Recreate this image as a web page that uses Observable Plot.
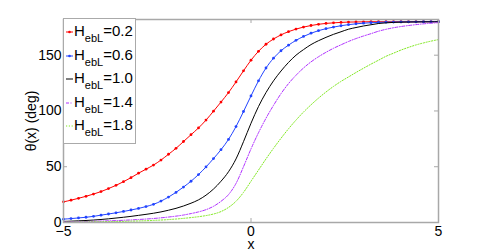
<!DOCTYPE html>
<html>
<head>
<meta charset="utf-8">
<script src="https://cdn.jsdelivr.net/npm/d3@7"></script>
<script src="https://cdn.jsdelivr.net/npm/@observablehq/plot@0.6"></script>
<style>
  html, body { margin: 0; padding: 0; background: #fff; }
  #wrap { position: relative; width: 485px; height: 252px; font-family: "Liberation Sans", Arial, Helvetica, sans-serif; }
  #legend { position: absolute; left: 63px; top: 18px; width: 73px; height: 126px; box-sizing: border-box;
            border: 1.5px solid #aaa; background: #fff; }
  .entry { position: absolute; left: 0; height: 24px; white-space: nowrap; color: #000; }
  .entry svg { position: absolute; left: 1px; top: 9px; }
  .entry .lab { position: absolute; left: 10px; top: 3px; font-size: 15px; line-height: 17px; }
  .entry sub { font-size: 11px; vertical-align: -6px; line-height: 0; }
</style>
</head>
<body>
<div id="wrap"><div id="legend"></div></div>
<script>
// x positions of the samples
const xs = [-5.0,-4.8,-4.6,-4.4,-4.2,-4.0,-3.8,-3.6,-3.4,-3.2,-3.0,-2.8,-2.6,-2.4,-2.2,-2.0,-1.8,-1.6,-1.4,-1.2,-1.0,
            -0.8,-0.6,-0.4,-0.2,0.0,0.2,0.4,0.6,0.8,1.0,1.2,1.4,1.6,1.8,2.0,2.2,2.4,2.6,2.8,3.0,
            3.2,3.4,3.6,3.8,4.0,4.2,4.4,4.6,4.8,5.0];

// series labels (H_ebL values)
const hLabels = ["0.2", "0.6", "1.0", "1.4", "1.8"];

// θ(x) in degrees
const theta02 = [18.5,20.0,21.7,23.5,25.5,27.7,30.4,33.3,36.6,40.2,44.2,47.8,51.5,56.0,61.2,66.5,72.6,78.7,84.8,91.8,99.8,
                 108.0,116.5,126.0,136.0,145.5,153.5,159.8,164.5,168.2,171.1,173.4,175.2,176.6,177.7,178.5,179.0,179.4,179.7,179.8,179.9,
                 180,180,180,180,180,180,180,180,180,180];
const theta06 = [3.0,3.5,4.1,4.7,5.5,6.6,7.6,8.7,9.9,11.2,12.6,14.3,16.3,19.2,22.8,27.0,31.8,37.0,43.0,49.8,57.3,
                 65.3,74.5,86.0,99.5,113.5,127.0,138.5,147.3,154.0,159.0,163.3,166.8,169.7,172.0,173.8,175.2,176.4,177.4,178.1,178.7,
                 179.1,179.4,179.6,179.7,179.8,179.9,179.9,180,180,180];
const theta10 = [1.0,1.2,1.5,1.8,2.2,2.7,3.3,4.0,4.7,5.5,6.4,7.3,8.3,9.5,11.0,12.7,14.8,17.3,20.3,24.5,30.0,
                 37.0,45.5,57.0,72.5,89.0,104.0,116.5,127.0,135.8,143.5,150.0,155.0,159.5,163.0,166.0,168.7,171.0,173.3,174.8,176.2,
                 177.3,178.4,179.0,179.4,179.6,179.7,179.8,179.9,179.9,180];
const theta14 = [0.6,0.7,0.8,0.9,1.1,1.3,1.5,1.7,2.0,2.3,2.7,3.1,3.6,4.2,4.9,5.7,6.7,8.0,9.5,11.5,14.5,
                 19.0,25.0,35.0,50.0,66.0,80.5,93.5,105.0,115.5,124.5,132.0,138.5,144.0,148.6,152.6,156.2,159.3,162.3,164.9,167.2,
                 169.3,171.5,173.2,174.6,175.7,176.6,177.4,178.1,178.7,179.2];
const theta18 = [0.3,0.35,0.4,0.5,0.6,0.7,0.8,0.9,1.0,1.2,1.4,1.6,1.9,2.2,2.6,3.1,3.7,4.4,5.2,6.2,7.6,
                 9.8,13.5,19.0,27.0,37.0,47.0,57.0,66.5,75.5,84.0,91.8,99.0,105.5,111.5,117.0,122.0,126.5,130.5,134.5,138.3,
                 142.0,145.5,149.0,151.8,154.6,157.0,159.2,161.0,162.6,164.0];

// tick values
const xTicks = [-5, 0, 5];
const yTicks = [0, 50, 100, 150];

// styles (kept separate from data)
const styles = {
  "0.2": {color: "#ff0000", dash: null, marker: true},
  "0.6": {color: "#2244ff", dash: null, marker: true},
  "1.0": {color: "#000000", dash: null, marker: false},
  "1.4": {color: "#b030ff", dash: "3,1.5,1,1.5", marker: false},
  "1.8": {color: "#80e820", dash: "1.2,1.6", marker: false}
};

const allSeries = [theta02, theta06, theta10, theta14, theta18];
const rows = hLabels.flatMap((h, i) => xs.map((x, j) => ({x, y: allSeries[i][j], H: h})));

const W = 485, H = 252, mL = 63, mR = 47, mT = 19, mB = 30;
const pw = W - mL - mR, ph = H - mT - mB;
const grey = "#a8a8a8";

const marks = [];
for (const h of hLabels) {
  const s = styles[h];
  marks.push(Plot.line(rows.filter(d => d.H === h), {x: "x", y: "y", stroke: s.color, strokeWidth: 1,
    strokeDasharray: s.dash ?? undefined, curve: "monotone-x"}));
  if (s.marker) {
    marks.push(Plot.dot(rows.filter(d => d.H === h), {x: "x", y: "y", r: 1.4, fill: s.color, stroke: "none"}));
  }
}

const chart = Plot.plot({
  width: W, height: H,
  marginLeft: mL, marginRight: mR, marginTop: mT, marginBottom: mB,
  style: {fontFamily: "'Liberation Sans', Arial, Helvetica, sans-serif", fontSize: "14px", background: "#fff", color: "#000"},
  x: {domain: [-5, 5]},
  y: {domain: [0, 182]},
  marks: [
    ...marks,
    Plot.frame({stroke: grey, strokeWidth: 1.5}),
    Plot.tickY(yTicks, {y: d => d, stroke: grey, insetRight: pw - 4}),
    Plot.tickY(yTicks, {y: d => d, stroke: grey, insetLeft: pw - 4}),
    Plot.tickX(xTicks, {x: d => d, stroke: grey, insetTop: ph - 4}),
    Plot.tickX(xTicks, {x: d => d, stroke: grey, insetBottom: ph - 4}),
    Plot.axisY({ticks: yTicks, tickSize: 0, tickPadding: 2, fontSize: 14,
      label: "θ(x) (deg)", labelAnchor: "center", labelOffset: 37, labelArrow: "none"}),
    Plot.axisX({ticks: xTicks, tickSize: 0, tickPadding: 4, fontSize: 14,
      label: "x", labelAnchor: "center", labelOffset: 26, labelArrow: "none"})
  ]
});
document.getElementById("wrap").prepend(chart);

// legend
const legend = document.getElementById("legend");
hLabels.forEach((h, i) => {
  const s = styles[h];
  const e = document.createElement("div");
  e.className = "entry";
  e.style.top = (i * 23.6) + "px";
  const sw = d3.create("svg").attr("width", 9).attr("height", 8);
  sw.append("line").attr("x1", 1).attr("x2", 8).attr("y1", 4).attr("y2", 4)
    .attr("stroke", s.color).attr("stroke-width", 1)
    .attr("stroke-dasharray", s.dash);
  if (s.marker) sw.append("circle").attr("cx", 4.5).attr("cy", 4).attr("r", 1.3).attr("fill", s.color);
  e.appendChild(sw.node());
  const lab = document.createElement("span");
  lab.className = "lab";
  lab.innerHTML = "H<sub>ebL</sub>=" + h;
  e.appendChild(lab);
  legend.appendChild(e);
});
</script>
</body>
</html>
